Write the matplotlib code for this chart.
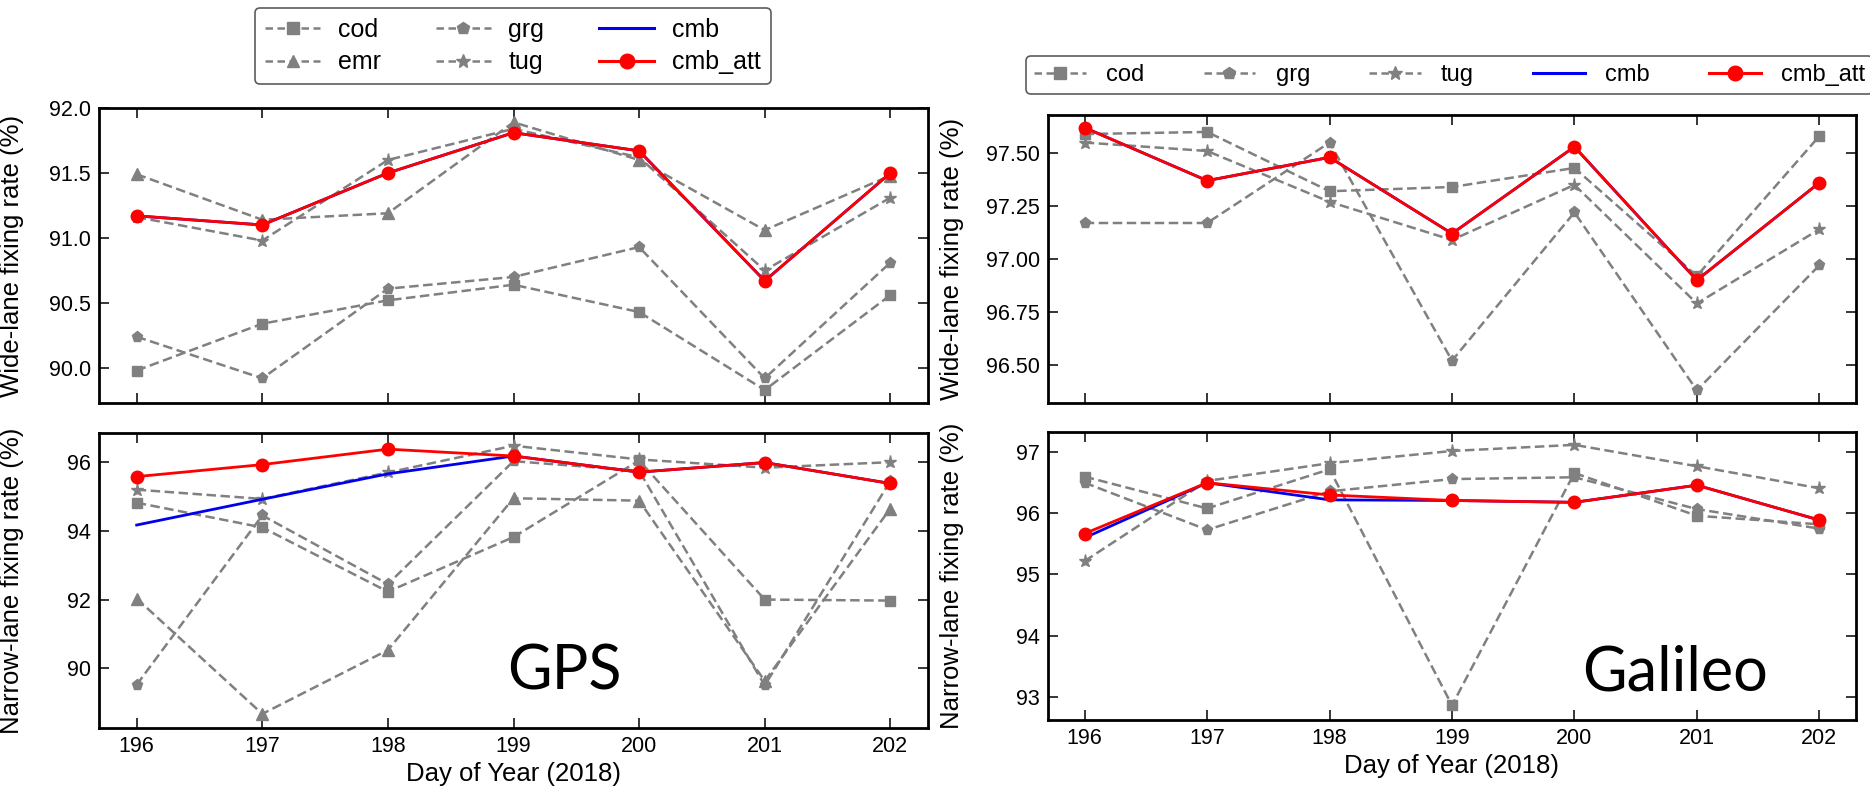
import matplotlib
matplotlib.use('Agg')
import matplotlib.pyplot as plt
from matplotlib.lines import Line2D
from matplotlib.ticker import FormatStrFormatter

days = [196, 197, 198, 199, 200, 201, 202]

# GPS wide-lane
gps_wl_cod = [89.98, 90.34, 90.52, 90.64, 90.43, 89.83, 90.56]
gps_wl_emr = [91.49, 91.14, 91.19, 91.89, 91.60, 91.06, 91.48]
gps_wl_grg = [90.24, 89.92, 90.61, 90.70, 90.93, 89.92, 90.81]
gps_wl_tug = [91.16, 90.98, 91.60, 91.84, 91.62, 90.75, 91.31]
gps_wl_cmb = [91.17, 91.10, 91.50, 91.81, 91.67, 90.67, 91.50]
gps_wl_cmb_att = [91.17, 91.10, 91.50, 91.81, 91.67, 90.67, 91.50]

# GPS narrow-lane
gps_nl_cod = [94.82, 94.10, 92.23, 93.82, 96.05, 92.00, 91.97]
gps_nl_emr = [92.03, 88.67, 90.53, 94.95, 94.88, 89.63, 94.65]
gps_nl_grg = [89.52, 94.45, 92.45, 96.03, 95.75, 89.50, 95.45]
gps_nl_tug = [95.20, 94.93, 95.70, 96.48, 96.08, 95.84, 96.00]
gps_nl_cmb = [94.17, 94.92, 95.66, 96.18, 95.71, 95.99, 95.38]
gps_nl_cmb_att = [95.58, 95.93, 96.38, 96.18, 95.71, 95.99, 95.38]

# Galileo wide-lane
gal_wl_cod = [97.59, 97.60, 97.32, 97.34, 97.43, 96.92, 97.58]
gal_wl_grg = [97.17, 97.17, 97.55, 96.52, 97.22, 96.38, 96.97]
gal_wl_tug = [97.55, 97.51, 97.27, 97.09, 97.35, 96.79, 97.14]
gal_wl_cmb = [97.62, 97.37, 97.48, 97.12, 97.53, 96.90, 97.36]
gal_wl_cmb_att = [97.62, 97.37, 97.48, 97.12, 97.53, 96.90, 97.36]

# Galileo narrow-lane
gal_nl_cod = [96.60, 96.08, 96.72, 92.86, 96.66, 95.96, 95.82]
gal_nl_grg = [96.50, 95.73, 96.36, 96.56, 96.59, 96.07, 95.75]
gal_nl_tug = [95.22, 96.53, 96.82, 97.02, 97.12, 96.77, 96.41]
gal_nl_cmb = [95.60, 96.50, 96.22, 96.21, 96.18, 96.46, 95.89]
gal_nl_cmb_att = [95.67, 96.50, 96.30, 96.21, 96.18, 96.46, 95.89]

GRAY = '#808080'
REG = ['Liberation Sans', 'DejaVu Sans']

fig = plt.figure(figsize=(18.7, 7.91), dpi=100)

W, H = 1870.0, 791.0
def rect(x0, y0, x1, y1):
    return [x0 / W, 1 - y1 / H, (x1 - x0) / W, (y1 - y0) / H]

ax_tl = fig.add_axes(rect(99, 108, 928, 403))
ax_bl = fig.add_axes(rect(99, 433, 928, 728))
ax_tr = fig.add_axes(rect(1048, 115, 1856, 403))
ax_br = fig.add_axes(rect(1048, 432, 1856, 720))

def draw(ax, series, cmb, cmb_att):
    for vals, mk, ms in series:
        ax.plot(days, vals, marker=mk, mfc=GRAY, mec=GRAY, color=GRAY, ls='--', lw=1.8,
                ms=ms, dashes=(3.8, 1.8))
    ax.plot(days, cmb, color='#0000ee', lw=2.0)
    ax.plot(days, cmb_att, color='#ff0000', lw=2.0, marker='o', ms=9, mec='#ff0000', mfc='#ff0000')

draw(ax_tl, [(gps_wl_cod, 's', 7.5), (gps_wl_emr, '^', 8), (gps_wl_grg, 'p', 8), (gps_wl_tug, '*', 9.5)],
     gps_wl_cmb, gps_wl_cmb_att)
draw(ax_bl, [(gps_nl_cod, 's', 7.5), (gps_nl_emr, '^', 8), (gps_nl_grg, 'p', 8), (gps_nl_tug, '*', 9.5)],
     gps_nl_cmb, gps_nl_cmb_att)
draw(ax_tr, [(gal_wl_cod, 's', 7.5), (gal_wl_grg, 'p', 8), (gal_wl_tug, '*', 9.5)],
     gal_wl_cmb, gal_wl_cmb_att)
draw(ax_br, [(gal_nl_cod, 's', 7.5), (gal_nl_grg, 'p', 8), (gal_nl_tug, '*', 9.5)],
     gal_nl_cmb, gal_nl_cmb_att)

ax_tl.set_ylim(89.73, 92.0)
ax_tl.set_yticks([90.0, 90.5, 91.0, 91.5, 92.0])
ax_tl.yaxis.set_major_formatter(FormatStrFormatter('%.1f'))
ax_bl.set_ylim(88.26, 96.85)
ax_bl.set_yticks([90, 92, 94, 96])
ax_tr.set_ylim(96.32, 97.68)
ax_tr.set_yticks([96.5, 96.75, 97.0, 97.25, 97.5])
ax_tr.yaxis.set_major_formatter(FormatStrFormatter('%.2f'))
ax_br.set_ylim(92.62, 97.33)
ax_br.set_yticks([93, 94, 95, 96, 97])

for ax in (ax_tl, ax_bl, ax_tr, ax_br):
    ax.set_xlim(195.7, 202.3)
    ax.set_xticks(days)
    ax.tick_params(direction='in', top=True, right=True, length=7, width=1.1,
                   labelsize=15.5, pad=6)
    for lab in ax.get_xticklabels() + ax.get_yticklabels():
        lab.set_family(REG)
    for sp in ax.spines.values():
        sp.set_linewidth(2.0)

for ax in (ax_tl, ax_tr):
    ax.tick_params(labelbottom=False)

YL = 18.5
ax_tl.set_ylabel('Wide-lane fixing rate (%)', fontsize=YL, family=REG)
ax_bl.set_ylabel('Narrow-lane fixing rate (%)', fontsize=YL, family=REG)
ax_tr.set_ylabel('Wide-lane fixing rate (%)', fontsize=YL, family=REG)
ax_br.set_ylabel('Narrow-lane fixing rate (%)', fontsize=YL, family=REG)
ax_tl.yaxis.set_label_coords(-0.0905, 0.5)
ax_bl.yaxis.set_label_coords(-0.0905, 0.5)
ax_tr.yaxis.set_label_coords(-0.1035, 0.5)
ax_br.yaxis.set_label_coords(-0.1035, 0.5)

ax_bl.set_xlabel('Day of Year (2018)', fontsize=18.5, family=REG, labelpad=3)
ax_br.set_xlabel('Day of Year (2018)', fontsize=18.5, family=REG, labelpad=3)

ax_bl.text(0.561, 0.129, 'GPS', transform=ax_bl.transAxes, ha='center', va='baseline',
           fontsize=44, family=['Lato', 'DejaVu Sans'])
ax_br.text(0.776, 0.104, 'Galileo', transform=ax_br.transAxes, ha='center', va='baseline',
           fontsize=44, family=['Lato', 'DejaVu Sans'])

def gh(mk, ms):
    return Line2D([], [], color=GRAY, ls='--', lw=1.8, marker=mk, ms=ms, mfc=GRAY, mec=GRAY,
                  dashes=(3.0, 1.8))

h_cod = gh('s', 8.5)
h_emr = gh('^', 9)
h_grg = gh('p', 9)
h_tug = gh('*', 10.5)
h_cmb = Line2D([], [], color='#0000ee', lw=2.2)
h_att = Line2D([], [], color='#ff0000', lw=2.2, marker='o', ms=10.5)

leg1 = fig.legend([h_cod, h_emr, h_grg, h_tug, h_cmb, h_att],
                  ['cod', 'emr', 'grg', 'tug', 'cmb', 'cmb_att'],
                  ncol=3, loc='center', bbox_to_anchor=(513 / W, 1 - 46 / H),
                  prop={'family': REG, 'size': 18}, frameon=True, fancybox=True,
                  handlelength=2.2, columnspacing=2.2, labelspacing=0.35, handletextpad=0.7,
                  borderpad=0.4, borderaxespad=0)
leg1.get_frame().set_edgecolor('#333333')
leg1.get_frame().set_linewidth(1.2)

leg2 = fig.legend([h_cod, h_grg, h_tug, h_cmb, h_att],
                  ['cod', 'grg', 'tug', 'cmb', 'cmb_att'],
                  ncol=5, loc='center', bbox_to_anchor=(1449.5 / W, 1 - 75 / H),
                  prop={'family': REG, 'size': 17}, frameon=True, fancybox=True,
                  handlelength=2.2, columnspacing=2.5, handletextpad=0.85, borderpad=0.33,
                  borderaxespad=0)
leg2.get_frame().set_edgecolor('#333333')
leg2.get_frame().set_linewidth(1.2)

fig.savefig('out.png', dpi=100)
